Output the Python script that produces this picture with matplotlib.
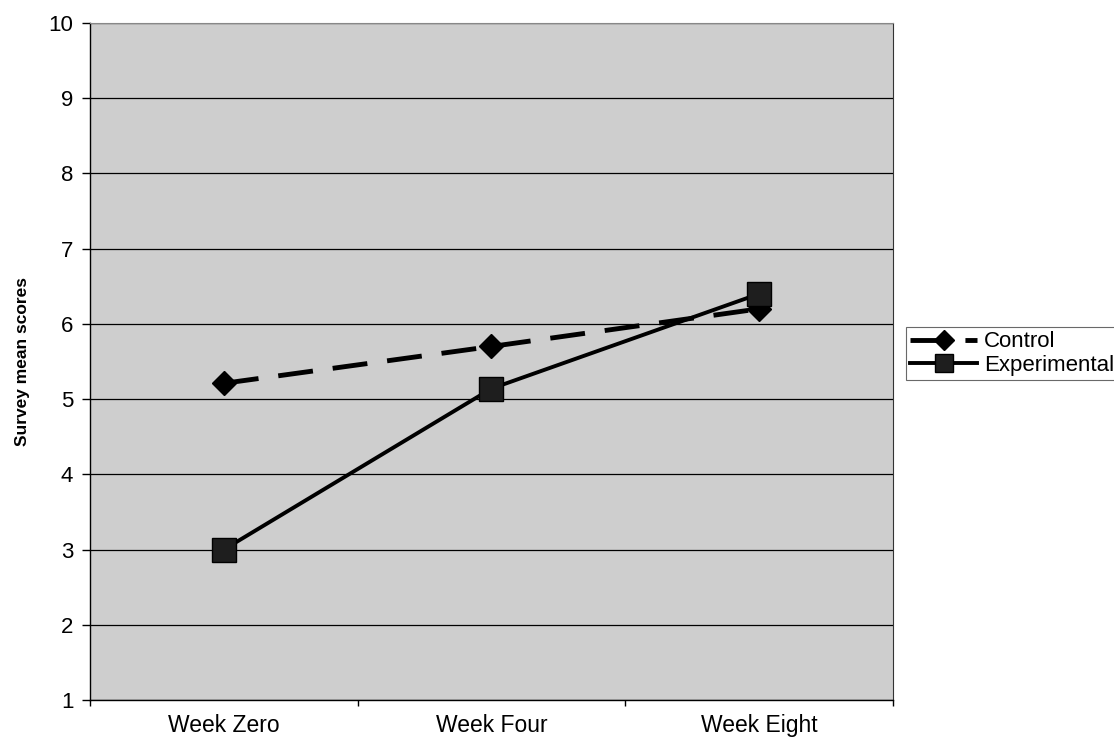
import matplotlib
matplotlib.use("Agg")
import matplotlib.pyplot as plt
from matplotlib.ticker import FixedLocator

plt.rcParams['font.family'] = ['Liberation Sans', 'DejaVu Sans']

categories = ["Week Zero", "Week Four", "Week Eight"]
control = [5.21, 5.70, 6.20]
experimental = [3.00, 5.14, 6.40]
y_ticks = [1, 2, 3, 4, 5, 6, 7, 8, 9, 10]

fig = plt.figure(figsize=(11.14, 7.42), dpi=100)
ax = fig.add_axes([90/1114, 1 - 700/742, (893-90)/1114, (700-23)/742])
ax.set_facecolor('#cecece')

x = list(range(len(categories)))
ax.plot(x, control, color='black', lw=3.5, dashes=(7.2, 4.1),
        marker='D', markersize=12.5, markerfacecolor='black',
        markeredgecolor='black', label='Control', zorder=3)
ax.plot(x, experimental, color='black', lw=2.8,
        marker='s', markersize=17, markerfacecolor='#1e1e1e',
        markeredgecolor='black', label='Experimental', zorder=4)

ax.set_xlim(-0.5, len(categories) - 0.5)
ax.set_ylim(1, 10)
ax.set_yticks(y_ticks)
ax.set_yticklabels([str(v) for v in y_ticks], fontsize=16)
ax.yaxis.grid(True, color='black', lw=0.9)
ax.set_axisbelow(True)

ax.xaxis.set_major_locator(FixedLocator([i + 0.5 for i in range(-1, len(categories))]))
ax.xaxis.set_major_formatter(plt.NullFormatter())
ax.xaxis.set_minor_locator(FixedLocator(x))
ax.set_xticklabels(categories, minor=True, fontsize=16.5)
ax.tick_params(axis='x', which='major', length=4, width=1, direction='out')
ax.tick_params(axis='x', which='minor', length=0, pad=10)
ax.tick_params(axis='y', length=5.5, width=1, pad=6.5, direction='out')

ax.set_ylabel('Survey mean scores', fontsize=12.5, fontweight='bold', labelpad=13)

for s in ['left', 'bottom']:
    ax.spines[s].set_color('black')
    ax.spines[s].set_linewidth(1)
ax.spines['right'].set_color('#333333')
ax.spines['top'].set_color('#888888')

leg = fig.legend(loc='upper left', bbox_to_anchor=(906/1114, 1 - 327/742),
                 fontsize=16, frameon=True, fancybox=False, edgecolor='#444444',
                 handlelength=3.0, handletextpad=0.3, borderpad=0.2,
                 labelspacing=0.1, markerscale=0.8, borderaxespad=0)
leg.get_frame().set_linewidth(0.8)

fig.savefig('out.png', dpi=100)
